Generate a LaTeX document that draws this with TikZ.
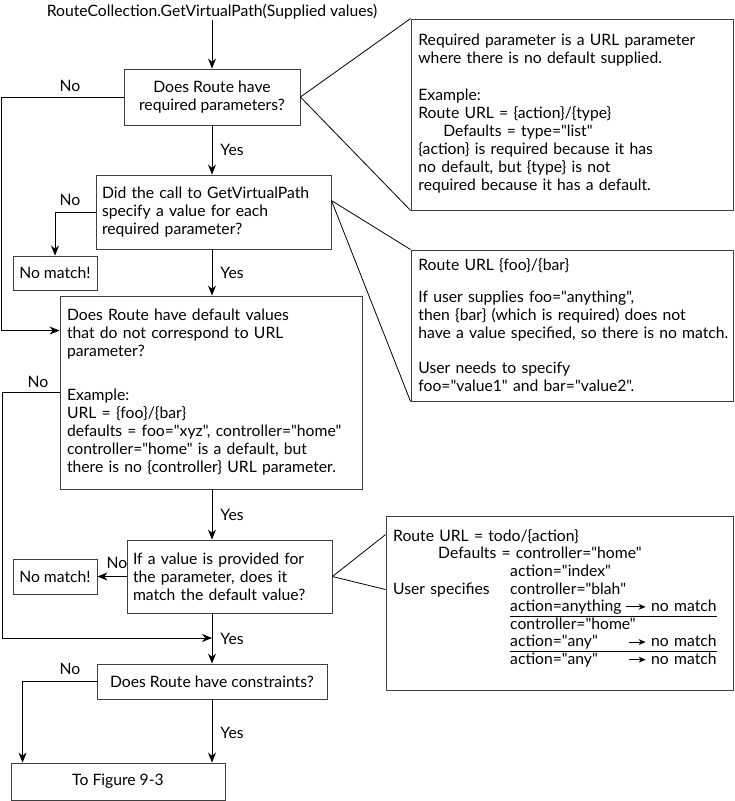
\documentclass[tikz,border=0pt]{standalone}
\usepackage{fontspec}
\setmainfont{Lato}[Ligatures=TeXOff]
\usetikzlibrary{arrows.meta}
\newcommand\smallarr[1]{\tikz[baseline=-0.6ex]\draw[line width=0.8pt,-{Stealth[length=7pt,width=6pt]}] (0pt,0pt) -- (#1,0pt);}
\begin{document}
\begin{tikzpicture}[x=1pt,y=-1pt,
  font=\fontsize{15.7}{18}\selectfont,
  line width=0.8pt,
  box/.style={draw=black!75, line width=0.9pt, inner ysep=0pt, rectangle},
  lbox/.style={box, align=left, inner xsep=#1},
  txt/.style={align=left, inner sep=0pt, anchor=north west, text width=330pt},
  arr/.style={-{Stealth[length=10pt,width=8pt]}},
  lbl/.style={inner sep=0pt}]
\useasboundingbox (0,0) rectangle (735,801);

\node[lbl] (title) at (212,12) {RouteCollection.GetVirtualPath(Supplied values)};

% main boxes
\node[box, align=center, minimum width=176pt, minimum height=56pt] (b1) at (212,97)
  {Does Route have\\required parameters?};
\node[lbox=6pt, text width=223pt, minimum height=74pt] (b2) at (213.5,212)
  {Did the call to GetVirtualPath\\specify a value for each\\required parameter?};
\node[box, minimum width=84pt, minimum height=34pt] (nm1) at (55,273) {No match!};
\node[lbox=7pt, text width=288pt, minimum height=193pt] (b3) at (211,392.5)
  {Does Route have default values\\that do not correspond to URL\\parameter?\\[26pt]
   Example:\\URL = \{foo\}/\{bar\}\\defaults = foo="xyz", controller="home"\\
   controller="home" is a default, but\\there is no \{controller\} URL parameter.};
\node[lbox=6pt, text width=193pt, minimum height=73pt] (b4) at (229.5,576.5)
  {If a value is provided for\\the parameter, does it\\match the default value?};
\node[box, minimum width=84pt, minimum height=35pt] (nm2) at (55,576.5) {No match!};
\node[box, minimum width=230pt, minimum height=35pt] (b5) at (212,681.5) {Does Route have constraints?};
\node[box, minimum width=214pt, minimum height=37pt] (fin) at (118,781.5) {To Figure 9-3};

% callouts
\node[box, minimum width=322pt, minimum height=191pt] (c1) at (572,114.5) {};
\node[txt] (t1) at (418,34)
  {Required parameter is a URL parameter\\where there is no default supplied.\\[19pt]
   Example:\\Route URL = \{action\}/\{type\}\\
   \hspace*{25pt}Defaults = type="list"\\
   \{action\} is required because it has\\no default, but \{type\} is not\\
   required because it has a default.};
\node[box, minimum width=322pt, minimum height=151pt] (c2) at (572,325.5) {};
\node[txt] (t2) at (418,258)
  {Route URL \{foo\}/\{bar\}\\[14pt]
   If user supplies foo="anything",\\then \{bar\} (which is required) does not\\
   have a value specified, so there is no match.\\[17pt]
   User needs to specify\\foo="value1" and bar="value2".};
\node[box, minimum width=347pt, minimum height=174pt] (c3) at (559.5,603) {};
\node[txt, font=\fontsize{15.7}{17.6}\selectfont] (t3) at (393,529)
  {Route URL = todo/\{action\}\\
   \hspace*{45pt}Defaults = controller="home"\\
   \hspace*{117pt}action="index"\\
   \makebox[117pt][l]{User specifies}controller="blah"\\
   \hspace*{117pt}\underline{\makebox[115pt][l]{action=anything}\smallarr{20pt}\ no match}\\
   \hspace*{117pt}controller="home"\\
   \hspace*{117pt}\underline{\makebox[118pt][l]{action="any"}\smallarr{17pt}\ no match}\\
   \hspace*{117pt}\makebox[118pt][l]{action="any"}\smallarr{17pt}\ no match};

% flow connectors
\draw[arr] (title.south) -- (b1.north);
\draw[arr] (b1.south) -- (b1.south |- b2.north);
\draw[arr] (b1.west) -- ++(-122,0) |- ([yshift=-35pt]b3.north west);
\draw[arr] (b2.west) -| (nm1.north);
\draw[arr] (b2.south -| b1.south) -- (b1.south |- b3.north);
\coordinate (j) at (212,638);
\draw[arr] (b3.west) -- ++(-57,0) |- (j);
\draw[arr] (b1.south |- b3.south) -- (b1.south |- b4.north);
\draw[arr] (b4.west) -- (nm2.east);
\draw[arr] (b1.south |- b4.south) -- (b5.north);
\draw[arr] (b5.west) -| ([xshift=12pt]fin.north west);
\draw[arr] (b5.south) -- (b5.south |- fin.north);

% callout connectors
\draw (b1.east) -- (c1.north west);
\draw (b1.east) -- (c1.south west);
\coordinate (p2) at ([yshift=-26pt]b2.north east);
\draw (p2) -- (c2.north west);
\draw (p2) -- (c2.south west);
\draw (b4.east) -- ([yshift=-19pt]c3.north west);
\draw (b4.east) -- ([yshift=-74pt]c3.north west);

% labels
\node[lbl] (no1) at (70,86) {No};
\node[lbl] (yes1) at (232,150) {Yes};
\node[lbl] (no2) at (70,200) {No};
\node[lbl] (yes2) at (232,273) {Yes};
\node[lbl] (no3) at (38,382) {No};
\node[lbl] (yes3) at (232,515) {Yes};
\node[lbl] (no4) at (117,563) {No};
\node[lbl] (yes4) at (232,639) {Yes};
\node[lbl] (no5) at (70,669) {No};
\node[lbl] (yes5) at (232,733) {Yes};
\end{tikzpicture}
\end{document}
